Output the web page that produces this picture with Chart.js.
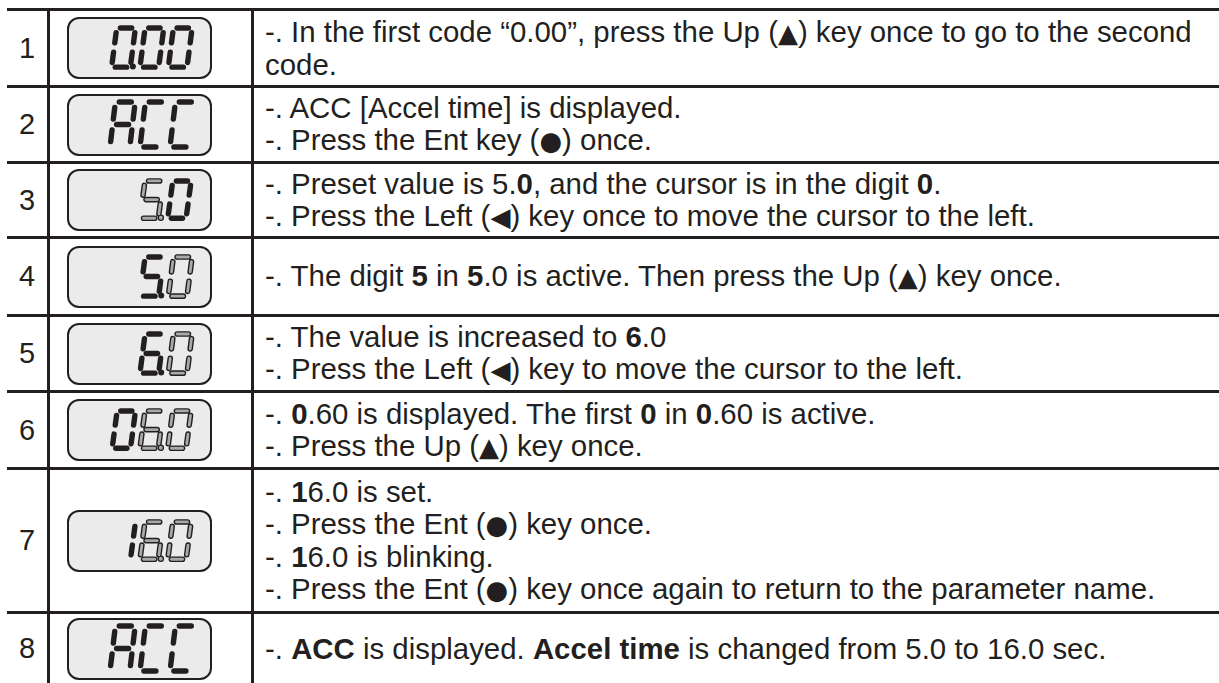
<!DOCTYPE html>
<html>
<head>
<meta charset="utf-8">
<script src="https://cdn.jsdelivr.net/npm/chart.js@4.4.0/dist/chart.umd.min.js"></script>
<style>
html, body { margin: 0; padding: 0; background: #fff; }
body {
  width: 1219px; height: 683px; overflow: hidden; position: relative;
  font-family: "Liberation Sans", Arial, "DejaVu Sans", sans-serif; color: #231f20;
}
#steps {
  position: absolute; left: 7px; top: 8px; width: 1212px; height: 675px;
  display: grid;
  grid-template-columns: 43px 204px 1fr;
  grid-template-rows: 77px 76px 75px 78px 76px 77px 144px 1fr;
}
.cell { box-sizing: border-box; border-top: 3px solid #231f20; display: flex; align-items: center; }
.num { border-right: 3px solid #231f20; justify-content: center; font-size: 29px; }
.disp { border-right: 3px solid #231f20; }
.txt {
  flex-direction: column; align-items: flex-start; justify-content: center;
  padding-left: 11px; font-size: 29.4px; line-height: 32px; white-space: nowrap;
}
.sym { font-family: "DejaVu Sans", sans-serif; font-size: 26px; }
.lcd {
  position: relative; box-sizing: border-box; width: 145px; height: 62px; margin-left: 17px;
  border: 2px solid #231f20; border-radius: 12px; background: #ebebeb;
}
.lcd .cv { position: absolute; left: -2px; top: -2px; width: 145px; height: 62px; }
</style>
</head>
<body>
<div id="steps"></div>
<script>
// --- data ---
const stepLabels = ['1', '2', '3', '4', '5', '6', '7', '8'];

// what the 3-digit display shows in each step (' ' = blank digit)
const lcdDigits = [
  ['0', '0', '0'],
  ['A', 'C', 'C'],
  [' ', '5', '0'],
  [' ', '5', '0'],
  [' ', '6', '0'],
  ['0', '6', '0'],
  ['1', '6', '0'],
  ['A', 'C', 'C']
];
// decimal point after the digit (1 = shown)
const lcdPoints = [
  [1, 0, 0], [0, 0, 0], [0, 1, 0], [0, 1, 0],
  [0, 1, 0], [0, 1, 0], [0, 1, 0], [0, 0, 0]
];
// 1 = digit is dimmed (grey), 0 = active (black)
const lcdDim = [
  [0, 0, 0], [0, 0, 0], [0, 1, 0], [0, 0, 1],
  [0, 0, 1], [0, 1, 1], [0, 1, 1], [0, 0, 0]
];

const stepLines = [
  ['-. In the first code “0.00”, press the Up (▲) key once to go to the second', 'code.'],
  ['-. ACC [Accel time] is displayed.', '-. Press the Ent key (●) once.'],
  ['-. Preset value is 5.<b>0</b>, and the cursor is in the digit <b>0</b>.',
   '-. Press the Left (◀) key once to move the cursor to the left.'],
  ['-. The digit <b>5</b> in <b>5</b>.0 is active. Then press the Up (▲) key once.'],
  ['-. The value is increased to <b>6</b>.0', '-. Press the Left (◀) key to move the cursor to the left.'],
  ['-. <b>0</b>.60 is displayed. The first <b>0</b> in <b>0</b>.60 is active.', '-. Press the Up (▲) key once.'],
  ['-. <b>1</b>6.0 is set.', '-. Press the Ent (●) key once.', '-. <b>1</b>6.0 is blinking.',
   '-. Press the Ent (●) key once again to return to the parameter name.'],
  ['-. <b>ACC</b> is displayed. <b>Accel time</b> is changed from 5.0 to 16.0 sec.']
];

// --- 7-segment glyph (digit units: 1 = one digit pitch across, 2 = digit height) ---
const W = 0.66;
const SLANT = 0.09;
const SEG = {
  a: [[0.13, 0], [0.53, 0]],
  b: [[W, 0.24], [W, 0.76]],
  c: [[W, 1.24], [W, 1.76]],
  d: [[0.13, 2], [0.53, 2]],
  e: [[0, 1.24], [0, 1.76]],
  f: [[0, 0.24], [0, 0.76]],
  g: [[0.13, 1], [0.53, 1]]
};
const GLYPHS = { '0': 'abcdef', '1': 'bc', '5': 'afgcd', '6': 'afgedc', 'A': 'abcefg', 'C': 'adef', ' ': '' };

const INK = '#231f20';
const GREY = '#a9a9a9';

function segSet(points, color, width, order) {
  return {
    data: points, showLine: true, borderColor: color, borderWidth: width,
    borderCapStyle: 'round', pointRadius: 0, order: order, clip: false
  };
}

function buildDatasets(row) {
  const sets = [];
  lcdDigits[row].forEach((ch, slot) => {
    const dim = lcdDim[row][slot] === 1;
    for (const s of GLYPHS[ch]) {
      const pts = SEG[s].map(([x, y]) => ({ x: slot + x + (2 - y) * SLANT, y: y }));
      if (dim) {
        sets.push(segSet(pts, INK, 5.6, 2));
        sets.push(segSet(pts, GREY, 2.8, 1));
      } else {
        sets.push(segSet(pts, INK, 5.4, 1));
      }
    }
    if (lcdPoints[row][slot]) {
      sets.push({
        data: [{ x: slot + W + 0.09, y: 1.97 }], showLine: false,
        pointRadius: dim ? 2.6 : 3, pointBackgroundColor: dim ? GREY : INK,
        pointBorderColor: INK, pointBorderWidth: dim ? 1.3 : 0, order: 1, clip: false
      });
    }
  });
  return sets;
}

// --- build table ---
const grid = document.getElementById('steps');
stepLabels.forEach((label, row) => {
  const num = document.createElement('div');
  num.className = 'cell num';
  num.textContent = label;
  grid.appendChild(num);

  const disp = document.createElement('div');
  disp.className = 'cell disp';
  disp.innerHTML = '<div class="lcd"><div class="cv"><canvas></canvas></div></div>';
  grid.appendChild(disp);

  const txt = document.createElement('div');
  txt.className = 'cell txt';
  txt.innerHTML = stepLines[row]
    .map(l => '<div>' + l.replace(/([▲●◀])/g, '<span class="sym">$1</span>') + '</div>')
    .join('');
  grid.appendChild(txt);

  const canvas = disp.querySelector('canvas');
  new Chart(canvas, {
    type: 'scatter',
    data: { datasets: buildDatasets(row) },
    options: {
      animation: false,
      responsive: true,
      maintainAspectRatio: false,
      events: [],
      layout: { padding: 0 },
      plugins: { legend: { display: false }, tooltip: { enabled: false } },
      scales: {
        x: { type: 'linear', min: -1.433, max: 3.4, display: false },
        y: { type: 'linear', min: -0.356, max: 2.4, reverse: true, display: false }
      }
    }
  });
});
</script>
</body>
</html>
